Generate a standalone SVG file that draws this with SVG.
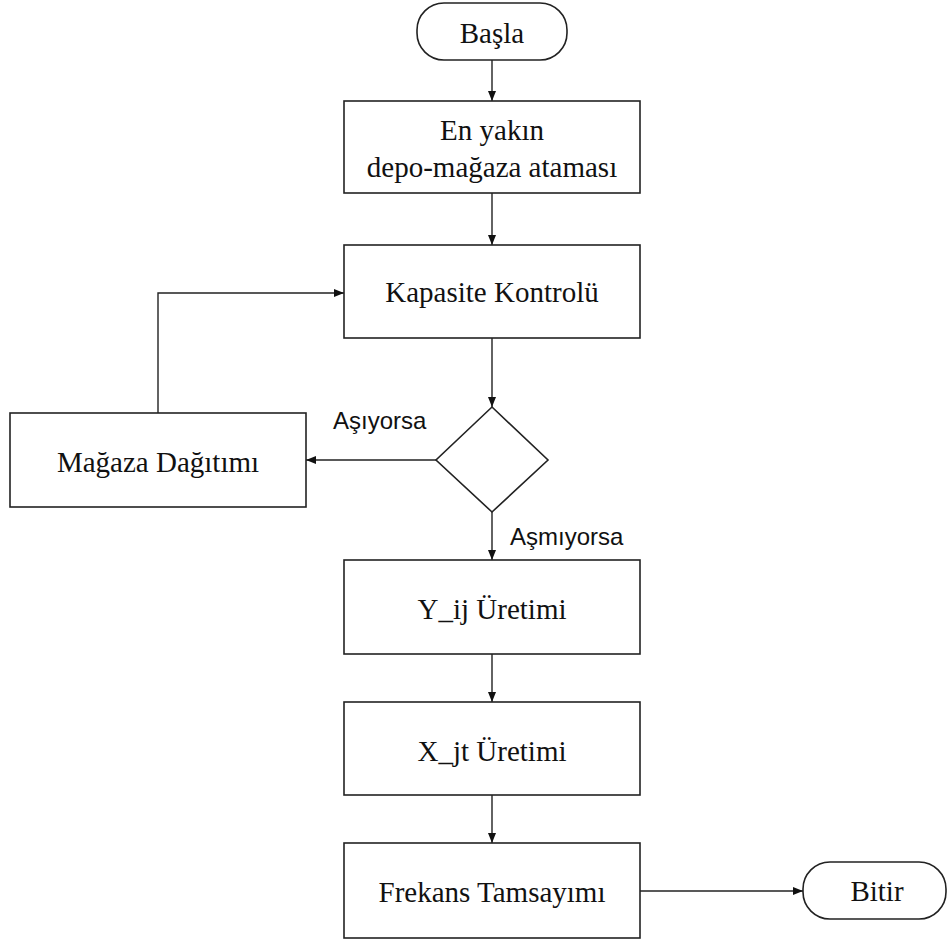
<svg xmlns="http://www.w3.org/2000/svg" width="948" height="942" viewBox="0 0 948 942">
  <style>
    .box { fill: #ffffff; stroke: #222222; stroke-width: 1.6; }
    .term { fill: #ffffff; stroke: #222222; stroke-width: 1.6; }
    .lbl { font-family: "Liberation Serif", "Times New Roman", serif; font-size: 29px; fill: #111111; text-anchor: middle; }
    .edge-lbl { font-family: "Liberation Sans", Arial, Helvetica, sans-serif; font-size: 24px; fill: #111111; }
    .wire { fill: none; stroke: #222222; stroke-width: 1.4; marker-end: url(#arrow); }
  </style>
  <defs>
    <marker id="arrow" viewBox="0 0 10 8" refX="10" refY="4" markerWidth="10" markerHeight="8" markerUnits="userSpaceOnUse" orient="auto">
      <path d="M0,0 L10,4 L0,8 Z" fill="#111111"/>
    </marker>
  </defs>

  <rect width="948" height="942" fill="#ffffff"/>

  <!-- connectors -->
  <g id="connectors">
    <path class="wire" d="M492,60 L492,101"/>
    <path class="wire" d="M492,193 L492,245"/>
    <path class="wire" d="M492,338 L492,407"/>
    <path class="wire" d="M436,460 L306,460"/>
    <path class="wire" d="M158,413 L158,293 L344,293"/>
    <path class="wire" d="M492,512 L492,560"/>
    <path class="wire" d="M492,654 L492,702"/>
    <path class="wire" d="M492,795 L492,843"/>
    <path class="wire" d="M640,891 L803,891"/>
    <text class="edge-lbl" x="333" y="429">Aşıyorsa</text>
    <text class="edge-lbl" x="510" y="545">Aşmıyorsa</text>
  </g>

  <!-- start -->
  <g id="start">
    <rect class="term" x="417" y="3" width="150" height="57" rx="27" ry="27"/>
    <text class="lbl" x="492" y="43">Başla</text>
  </g>

  <!-- nearest depot-store assignment -->
  <g id="assign">
    <rect class="box" x="344" y="101" width="296" height="92"/>
    <text class="lbl" x="492" y="140">En yakın</text>
    <text class="lbl" x="492" y="177">depo-mağaza ataması</text>
  </g>

  <!-- capacity check -->
  <g id="capacity">
    <rect class="box" x="344" y="245" width="296" height="93"/>
    <text class="lbl" x="492" y="302">Kapasite Kontrolü</text>
  </g>

  <!-- decision -->
  <g id="decision">
    <polygon class="box" points="492,407 548,460 492,512 436,460"/>
  </g>

  <!-- store redistribution -->
  <g id="redistribute">
    <rect class="box" x="10" y="413" width="296" height="94"/>
    <text class="lbl" x="158" y="472">Mağaza Dağıtımı</text>
  </g>

  <!-- Y_ij generation -->
  <g id="gen-y">
    <rect class="box" x="344" y="560" width="296" height="94"/>
    <text class="lbl" x="492" y="619">Y_ij Üretimi</text>
  </g>

  <!-- X_jt generation -->
  <g id="gen-x">
    <rect class="box" x="344" y="702" width="296" height="93"/>
    <text class="lbl" x="492" y="761">X_jt Üretimi</text>
  </g>

  <!-- frequency rounding -->
  <g id="frequency">
    <rect class="box" x="344" y="843" width="296" height="95"/>
    <text class="lbl" x="492" y="902">Frekans Tamsayımı</text>
  </g>

  <!-- end -->
  <g id="end">
    <rect class="term" x="803" y="862" width="143" height="57" rx="27" ry="27"/>
    <text class="lbl" x="877" y="901">Bitir</text>
  </g>
</svg>
